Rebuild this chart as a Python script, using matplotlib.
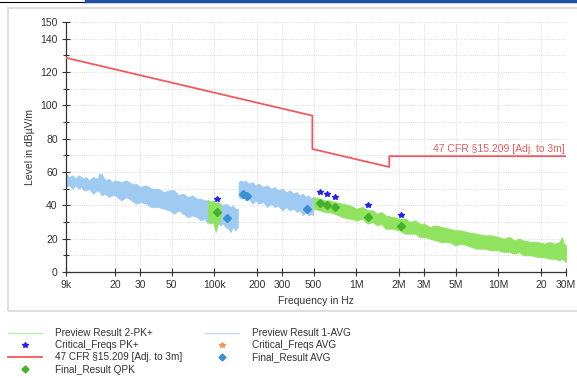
import matplotlib.pyplot as plt
from matplotlib.lines import Line2D
from matplotlib.patches import Rectangle

plt.rcParams['font.family'] = ['Liberation Sans', 'DejaVu Sans']

# Preview Result 1-AVG, part below 150 kHz (Hz, dBuV/m upper / lower edge of the band)
avg1_freq = [9e3, 9.5e3, 10e3, 10.5e3, 11e3, 11.5e3, 12e3, 12.5e3, 13e3, 14e3, 15e3, 15.5e3, 16e3,
             17e3, 18e3, 19e3, 20e3, 22e3, 24e3, 26e3, 28e3, 30e3, 33e3, 36e3, 40e3, 44e3, 48e3,
             52e3, 56e3, 60e3, 65e3, 70e3, 75e3, 80e3, 85e3, 90e3, 95e3, 100e3, 105e3, 110e3,
             115e3, 120e3, 125e3, 130e3, 135e3, 140e3, 146e3]
avg1_hi = [59, 57, 58, 56, 58, 57, 56, 57, 55, 57, 56, 59, 59,
           55, 56, 54, 55, 54, 55, 53, 53, 51, 52, 50, 50, 48, 49,
           49, 46, 47, 45, 46, 44, 44, 43, 43, 42, 41, 42, 41,
           40, 41, 40, 39, 40, 38, 38]
avg1_lo = [51, 52, 50, 52, 50, 51, 49, 49, 50, 47, 49, 48, 46,
           47, 45, 46, 46, 43, 45, 43, 41, 42, 41, 39, 39, 38, 37,
           35, 37, 35, 33, 34, 33, 31, 32, 29, 31, 29, 30, 28,
           29, 27, 26, 24, 27, 25, 27]

# Preview Result 1-AVG, 150 kHz .. 500 kHz
avg2_freq = [148e3, 155e3, 160e3, 165e3, 175e3, 185e3, 195e3, 205e3, 220e3, 235e3, 250e3,
             265e3, 280e3, 300e3, 320e3, 340e3, 360e3, 380e3, 400e3, 420e3, 440e3, 460e3,
             480e3, 495e3]
avg2_hi = [54, 55, 54, 55, 53, 54, 52, 53, 51, 52, 50, 51, 49, 50, 48, 49, 47, 48, 46, 47, 45,
           46, 44, 45]
avg2_lo = [45, 44, 45, 43, 44, 41, 43, 41, 42, 39, 41, 39, 40, 37, 39, 37, 38, 36, 37, 34, 36,
           34, 35, 34]

# Preview Result 2-PK+, small patch around 100 kHz
pk1_freq = [90e3, 94e3, 98e3, 102e3, 106e3, 110e3]
pk1_hi = [43, 42, 43, 41, 42, 40]
pk1_lo = [31, 29, 30, 24, 29, 31]

# Preview Result 2-PK+, 500 kHz .. 30 MHz
pk2_freq = [500e3, 550e3, 600e3, 650e3, 700e3, 800e3, 900e3, 1.0e6, 1.1e6, 1.2e6, 1.3e6,
            1.4e6, 1.5e6, 1.6e6, 1.8e6, 2.0e6, 2.2e6, 2.4e6, 2.6e6, 2.8e6, 3.0e6, 3.3e6,
            3.6e6, 4.0e6, 4.5e6, 5.0e6, 5.5e6, 6.0e6, 7.0e6, 8.0e6, 9.0e6, 10e6, 11e6, 12e6,
            13e6, 14e6, 15e6, 17e6, 19e6, 21e6, 23e6, 25e6, 27e6, 28e6, 29e6, 30e6]
pk2_hi = [45, 44, 43, 43, 42, 41, 40, 38, 39, 37, 37, 35, 36, 34, 33, 32, 32, 30, 31, 29, 29, 27,
          28, 27, 26, 25, 25, 24, 23, 22, 22, 21, 20, 21, 19, 20, 19, 18, 18, 17, 18, 17, 18,
          21, 17, 16]
pk2_lo = [38, 37, 36, 36, 35, 33, 32, 31, 32, 29, 30, 28, 29, 26, 26, 25, 23, 23, 23, 21, 21, 20,
          19, 18, 18, 16, 17, 16, 14, 14, 13, 13, 12, 12, 11, 12, 10, 10, 9, 9, 8, 8, 7, 8, 7, 6]

# 47 CFR 15.209 limit adjusted to 3 m
limit_freq = [9e3, 490e3, 490e3, 1.705e6, 1.705e6, 30e6]
limit_level = [128.5, 93.8, 73.8, 63.0, 69.5, 69.5]
limit_name = '47 CFR §15.209 [Adj. to 3m]'

# markers
crit_pk_freq = [104.7e3, 553e3, 623e3, 706e3, 1.21e6, 2.06e6]
crit_pk_level = [43.8, 47.8, 46.8, 45.0, 40.2, 34.2]
qpk_freq = [104.7e3, 553e3, 623e3, 706e3, 1.21e6, 2.06e6]
qpk_level = [36.0, 41.2, 40.2, 39.0, 33.2, 27.6]
avg_freq = [122e3, 158e3, 171e3, 446e3]
avg_level = [32.2, 46.6, 45.8, 37.6]

# tick labels
x_ticks = [9e3, 20e3, 30e3, 50e3, 100e3, 200e3, 300e3, 500e3, 1e6, 2e6, 3e6, 5e6, 10e6, 20e6, 30e6]
x_labels = ['9k', '20', '30', '50', '100k', '200', '300', '500', '1M', '2M', '3M', '5M', '10M', '20', '30M']
y_ticks = [0, 20, 40, 60, 80, 100, 120, 140, 150]

c_avg = '#9fcbf3'
c_pk = '#8fe35e'
c_limit = '#f0595e'

fig = plt.figure(figsize=(5.77, 3.78), dpi=100)

# grey panel frame and page lines at the top
fig.patches.append(Rectangle((8 / 577, 1 - 311 / 378), 1.0, 303 / 378, transform=fig.transFigure,
                             facecolor='none', edgecolor='#d8d8d8', linewidth=1.2, zorder=-1))
fig.lines.append(Line2D([0, 86 / 577], [1 - 1.5 / 378] * 2, transform=fig.transFigure, color='black', lw=0.8))
fig.lines.append(Line2D([86 / 577, 1], [1 - 1 / 378] * 2, transform=fig.transFigure, color='#1f4f9f', lw=2.5))

ax = fig.add_axes([66 / 577, 1 - 272 / 378, 500 / 577, 250 / 378])
ax.set_facecolor('none')
ax.set_xscale('log')

# spectra
ax.fill_between(avg1_freq, avg1_lo, avg1_hi, color=c_avg, lw=0.6, edgecolor=c_avg, zorder=2)
ax.fill_between(avg2_freq, avg2_lo, avg2_hi, color=c_avg, lw=0.6, edgecolor=c_avg, zorder=2)
ax.fill_between(pk1_freq, pk1_lo, pk1_hi, color=c_pk, lw=0.6, edgecolor=c_pk, zorder=3)
ax.fill_between(pk2_freq, pk2_lo, pk2_hi, color=c_pk, lw=0.6, edgecolor=c_pk, zorder=3)

# limit
ax.plot(limit_freq, limit_level, color=c_limit, lw=1.3, zorder=4)
ax.text(29.5e6, 70.5, limit_name, color=c_limit, fontsize=7.5, ha='right', va='bottom')

# results
ax.plot(avg_freq, avg_level, 'D', color='#3b8fd3', ms=4.5, ls='none', zorder=5)
ax.plot(qpk_freq, qpk_level, 'D', color='#46b02a', ms=4.5, ls='none', zorder=5)
ax.plot(crit_pk_freq, crit_pk_level, '*', color='#2020f0', ms=4, ls='none', zorder=6)

ax.set_xlim(9e3, 30e6)
ax.set_ylim(0, 150)
ax.set_xticks(x_ticks)
ax.set_xticklabels(x_labels)
ax.xaxis.set_minor_locator(plt.NullLocator())
ax.set_yticks(y_ticks)
ax.set_yticks(range(10, 140, 20), minor=True)
ax.tick_params(axis='both', which='major', direction='inout', length=6, width=0.8,
               labelsize=7.5, colors='#333333', pad=3)
ax.tick_params(axis='y', which='minor', direction='inout', length=5, width=0.8, colors='#333333')

for s in ['top', 'right']:
    ax.spines[s].set_visible(False)
for s in ['left', 'bottom']:
    ax.spines[s].set_color('#333333')
    ax.spines[s].set_linewidth(0.9)

# grid
for f in x_ticks[1:]:
    ax.axvline(f, color='#d0d0d0', lw=0.6, ls=':', zorder=1)
for lvl in range(10, 151, 10):
    ax.axhline(lvl, color='#d0d0d0', lw=0.6, ls=':', zorder=1)

ax.set_xlabel('Frequency in Hz', fontsize=7.5, color='#333333', labelpad=4)
ax.set_ylabel('Level in dBµV/m', fontsize=7.5, color='#333333', labelpad=4)

# legend
handles = [
    Line2D([], [], color='#b8ecb0', lw=1),
    Line2D([], [], marker='*', color='#2020f0', ms=4, ls='none'),
    Line2D([], [], color=c_limit, lw=1.3),
    Line2D([], [], marker='D', color='#46b02a', ms=3.5, ls='none'),
    Line2D([], [], color='#c6dcf2', lw=1),
    Line2D([], [], marker='*', color='#f7934f', ms=4, ls='none'),
    Line2D([], [], marker='D', color='#3b8fd3', ms=3.5, ls='none'),
]
labels = ['Preview Result 2-PK+', 'Critical_Freqs PK+', limit_name, 'Final_Result QPK',
          'Preview Result 1-AVG', 'Critical_Freqs AVG', 'Final_Result AVG']
fig.legend(handles, labels, ncol=2, loc='upper left', bbox_to_anchor=(6 / 577, 1 - 326 / 378),
           frameon=False, fontsize=7.2, handlelength=3.4, handletextpad=1.3, columnspacing=2.3,
           labelspacing=0.22, borderaxespad=0, borderpad=0.2, labelcolor='#333333')

plt.savefig('out.png', dpi=100)
